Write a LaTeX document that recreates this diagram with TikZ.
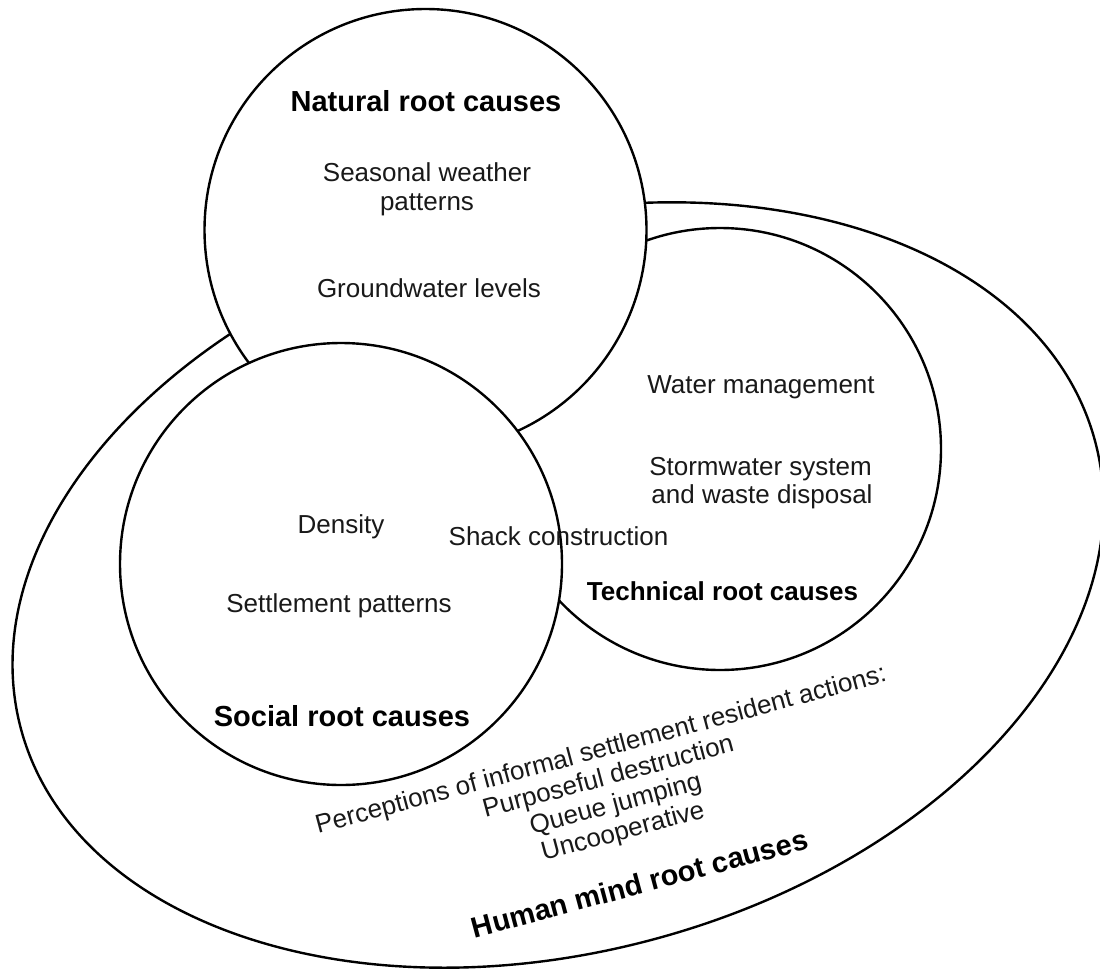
\documentclass[tikz,border=0pt]{standalone}
\usepackage{fontspec}
\setmainfont{Liberation Sans}
\usetikzlibrary{shapes.geometric}
\begin{document}
\begin{tikzpicture}[x=1pt,y=-1pt,
  shapeline/.style={draw=black, fill=white, line width=2.4pt, inner sep=0pt, outer sep=0pt},
  ring/.style={shapeline, circle, minimum size=442pt},
  txt/.style={font=\fontsize{26}{28.3}\selectfont, text=black!90, inner sep=0pt, anchor=base},
  head/.style={font=\fontsize{29}{32}\selectfont\bfseries, text=black, inner sep=0pt, anchor=base},
]
\useasboundingbox (0,0) rectangle (1100,969);
% shapes, back to front
\node[shapeline, ellipse, minimum width=1112pt, minimum height=734pt, rotate=15] (human) at (558,585) {};
\node[ring] (technical) at (720,449) {};
\node[ring] (natural) at (425.5,230) {};
\node[ring] (social) at (341,564) {};
% natural
\node[head] (natlabel) at (426,111.5) {Natural root causes};
\node[txt] (season1) at (427,181.7) {Seasonal weather};
\node[txt] (season2) at (427,210) {patterns};
\node[txt] (ground) at (429,297.7) {Groundwater levels};
% technical
\node[txt] (water) at (761,393.3) {Water management};
\node[txt] (storm1) at (760.5,475) {Stormwater system};
\node[txt] (storm2) at (762,503.3) {and waste disposal};
\node[head, font=\fontsize{26}{28}\selectfont\bfseries] (techlabel) at (722.5,600) {Technical root causes};
% social
\node[txt] (density) at (341,533.3) {Density};
\node[txt] (shack) at (558.5,545) {Shack construction};
\node[txt] (settle) at (339,612.7) {Settlement patterns};
\node[head] (soclabel) at (342,726.7) {Social root causes};
% human mind
\node[txt, rotate=15] (perc1) at (603,757.3) {Perceptions of informal settlement resident actions:};
\node[txt, rotate=15] (perc2) at (610.3,784.5) {Purposeful destruction};
\node[txt, rotate=15] (perc3) at (617.6,811.8) {Queue jumping};
\node[txt, rotate=15] (perc4) at (624.9,839) {Uncooperative};
\node[head, rotate=15] (humanlabel) at (642.3,893.5) {Human mind root causes};
\end{tikzpicture}
\end{document}
